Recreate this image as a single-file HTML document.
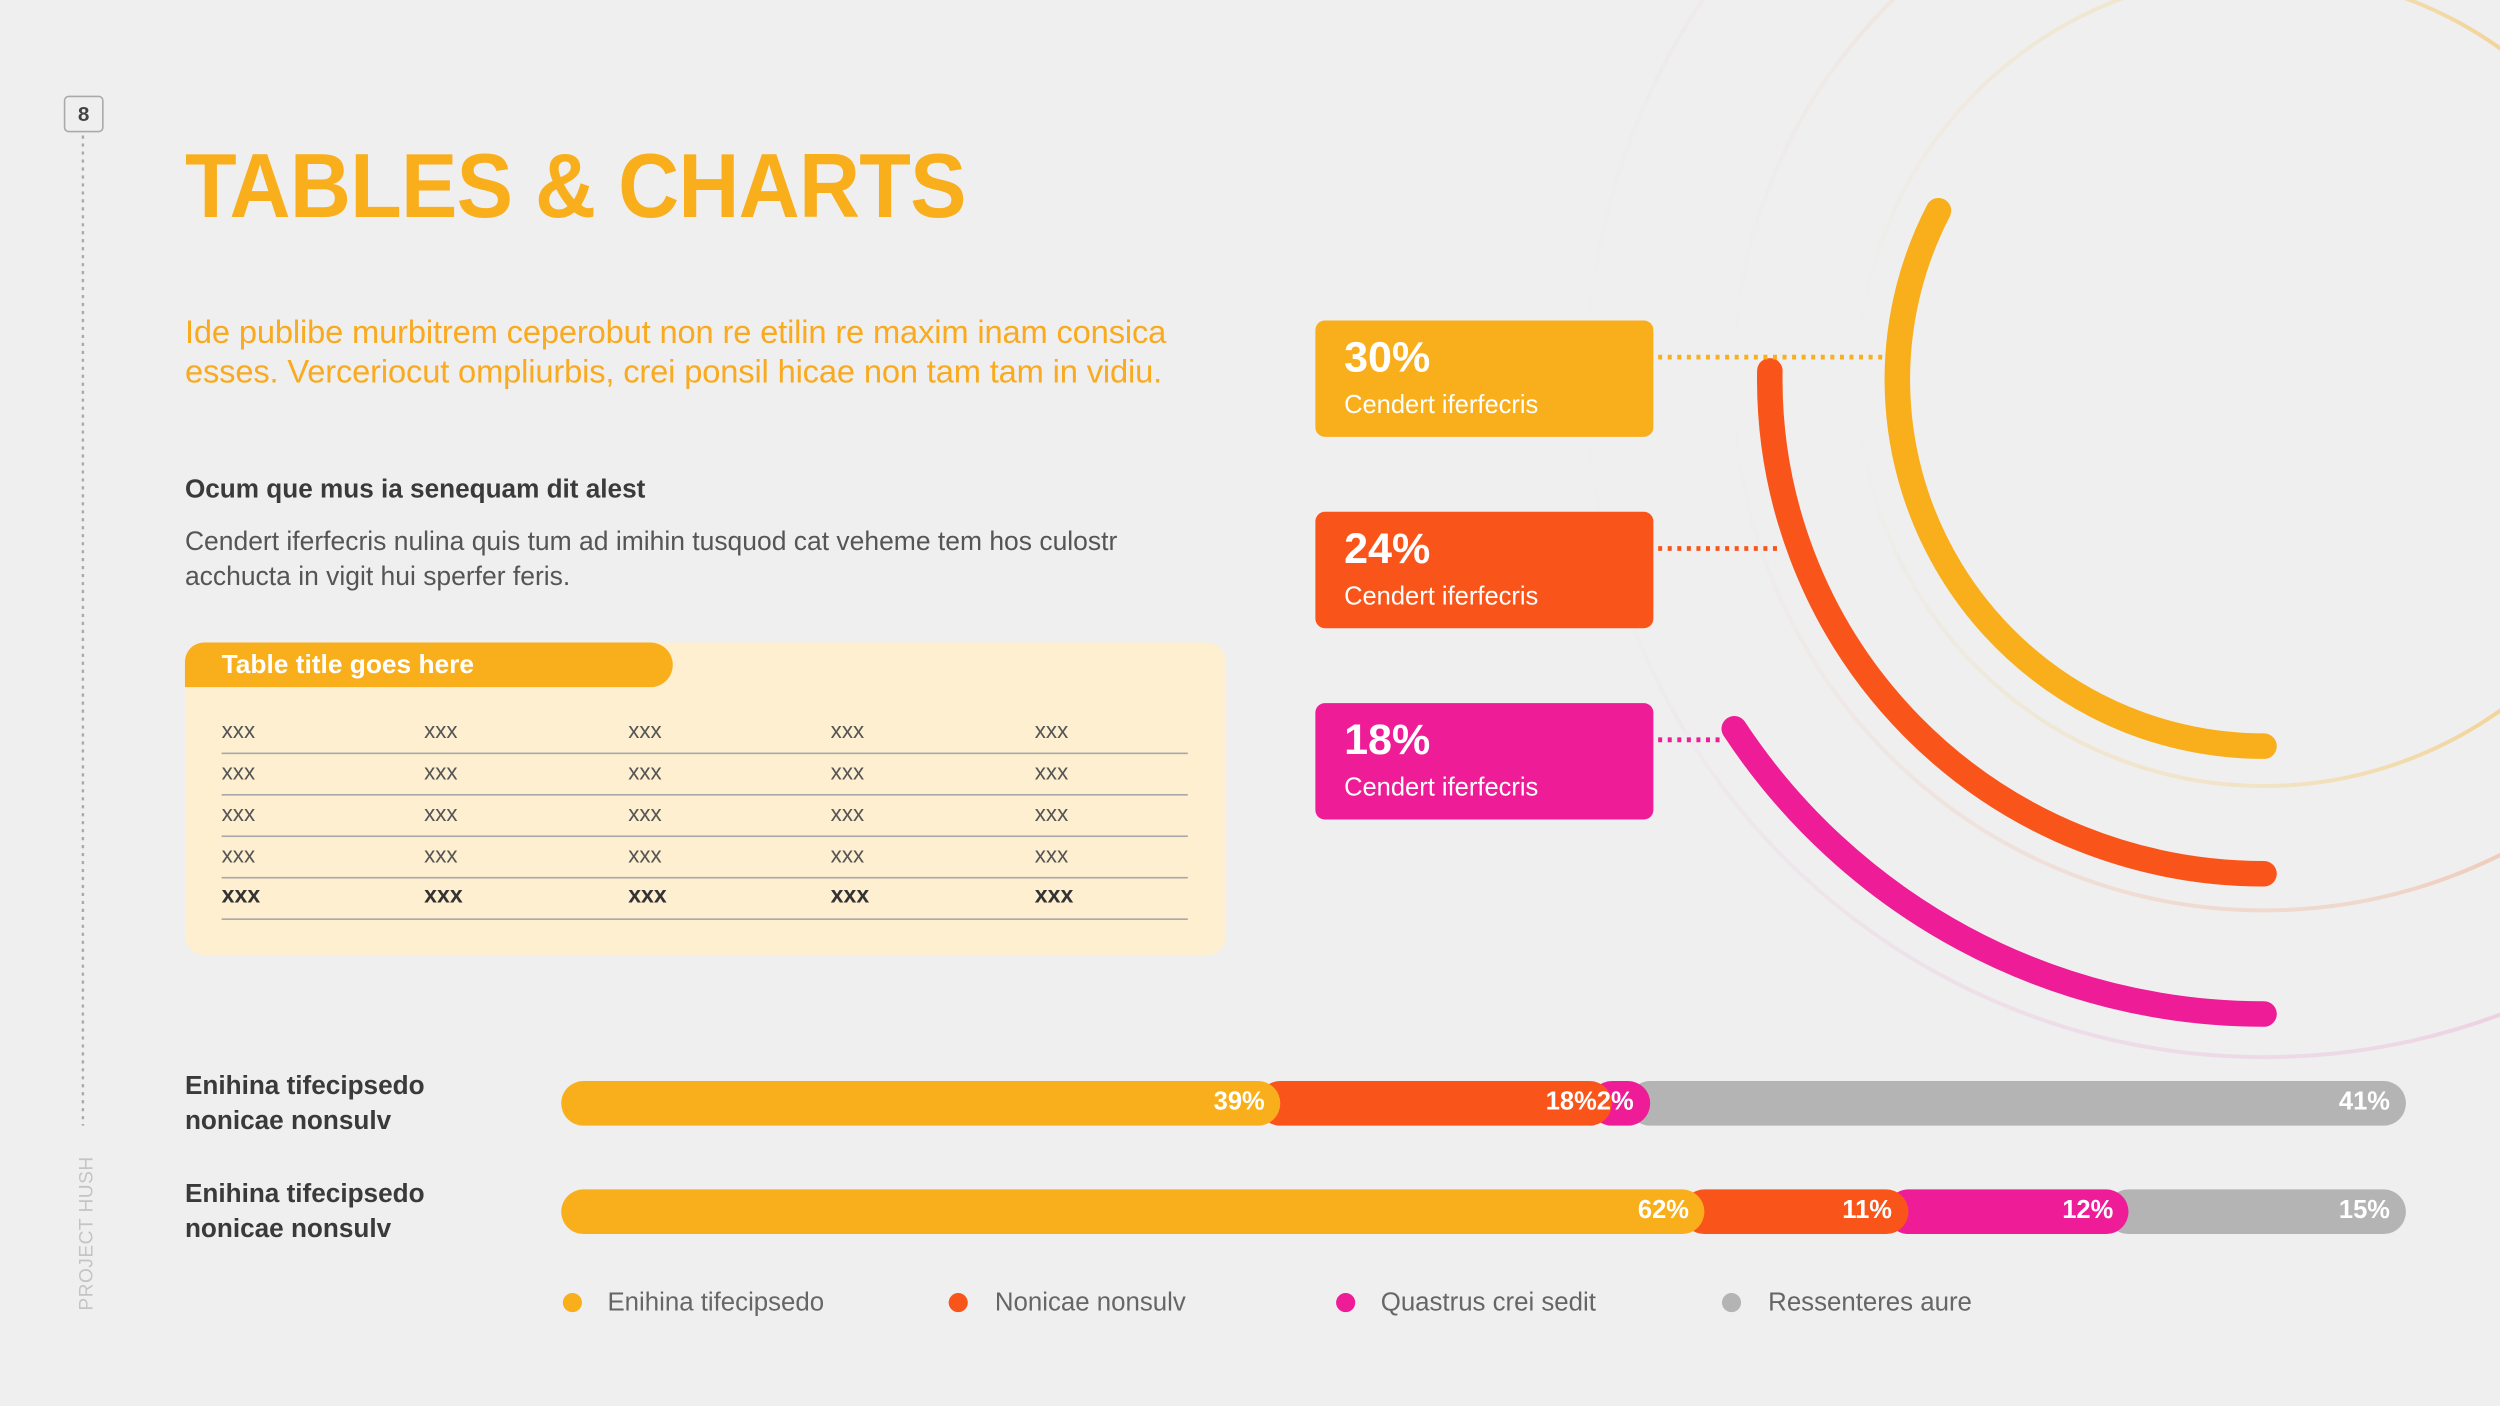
<!DOCTYPE html>
<html><head><meta charset="utf-8"><style>
html,body{margin:0;padding:0;width:2500px;height:1406px;overflow:hidden;background:#efefef}
#s{position:absolute;left:0;top:0;width:1568px;height:882px;transform:scale(1.59439);transform-origin:0 0;font-family:"Liberation Sans",sans-serif}
.a{position:absolute;white-space:nowrap}
.box{position:absolute;left:825px;width:212px;height:73px;border-radius:6px;color:#fff}
.box .p{position:absolute;left:18px;top:8px;font-size:27px;font-weight:bold}
.box .t{position:absolute;left:18px;top:45px;font-size:16px}
.cell{position:absolute;font-size:14px;color:#555}
.rl{position:absolute;left:116px;font-size:16.4px;font-weight:bold;color:#3a3a3a;line-height:22px}
.lg{position:absolute;top:808px;font-size:16.2px;color:#666}
.dot{position:absolute;top:811px;width:12px;height:12px;border-radius:6px}
</style></head><body>
<div id="s">
<svg class="a" style="left:0;top:0" width="1568" height="882">
 <defs>
  <linearGradient id="gy" x1="0" y1="0" x2="1" y2="0"><stop offset="0" stop-color="#f4c870" stop-opacity="0"/><stop offset="0.5" stop-color="#f4d89a" stop-opacity="0.5"/><stop offset="1" stop-color="#f3c060" stop-opacity="0.9"/></linearGradient>
  <linearGradient id="go" x1="0" y1="0" x2="1" y2="0"><stop offset="0" stop-color="#f3a080" stop-opacity="0"/><stop offset="0.6" stop-color="#f0c0a8" stop-opacity="0.5"/><stop offset="1" stop-color="#eea080" stop-opacity="0.9"/></linearGradient>
  <linearGradient id="gp" x1="0" y1="0" x2="1" y2="0"><stop offset="0" stop-color="#e8a0d0" stop-opacity="0"/><stop offset="0.6" stop-color="#ecc0dc" stop-opacity="0.5"/><stop offset="1" stop-color="#e8a0d0" stop-opacity="0.9"/></linearGradient>
 </defs>
 <circle cx="1420" cy="238" r="255" fill="none" stroke="url(#gy)" stroke-width="2.5"/>
 <circle cx="1420" cy="238" r="333" fill="none" stroke="url(#go)" stroke-width="2.5"/>
 <circle cx="1420" cy="238" r="425" fill="none" stroke="url(#gp)" stroke-width="2.5"/>
 <line x1="52" y1="85" x2="52" y2="706" stroke="#aaa" stroke-width="1.5" stroke-dasharray="2 3"/>
 <g id="arcs"></g>
 <line x1="1040" y1="224" x2="1183" y2="224" stroke="#f9ae1b" stroke-width="3" stroke-dasharray="2.5 3.5"/>
 <line x1="1040" y1="344" x2="1117" y2="344" stroke="#f9551a" stroke-width="3" stroke-dasharray="2.5 3.5"/>
 <line x1="1040" y1="464" x2="1082" y2="464" stroke="#ee1c96" stroke-width="3" stroke-dasharray="2.5 3.5"/>
</svg>

<div class="a" style="left:40px;top:60px;width:23px;height:21px;border:1px solid #aaa;border-radius:3px;text-align:center;font-size:13px;font-weight:bold;line-height:21px;color:#444;background:#efefef">8</div>
<div class="a" style="left:47px;top:822px;transform:rotate(-90deg);transform-origin:0 0;font-size:12px;color:#c4c4c4;letter-spacing:0.3px">PROJECT HUSH</div>

<div class="a" style="left:116px;top:84px;font-size:57px;font-weight:bold;color:#f9ae1b;transform:scaleX(0.93);transform-origin:0 0;letter-spacing:-0.5px">TABLES &amp; CHARTS</div>
<div class="a" style="left:116px;top:196px;font-size:20.5px;line-height:25px;color:#f9aa1f;font-weight:500;letter-spacing:-0.1px">Ide publibe murbitrem ceperobut non re etilin re maxim inam consica<br>esses. Verceriocut ompliurbis, crei ponsil hicae non tam tam in vidiu.</div>
<div class="a" style="left:116px;top:298px;font-size:16.4px;font-weight:bold;color:#3a3a3a">Ocum que mus ia senequam dit alest</div>
<div class="a" style="left:116px;top:329px;font-size:16.6px;line-height:22px;color:#555">Cendert iferfecris nulina quis tum ad imihin tusquod cat veheme tem hos culostr<br>acchucta in vigit hui sperfer feris.</div>

<div class="a" style="left:116px;top:403px;width:653px;height:196px;background:#fdefd0;border-radius:12px"></div>
<div class="a" style="left:116px;top:403px;width:306px;height:28px;background:#f9ae1b;border-radius:12px 14px 14px 0;"></div>
<div class="a" style="left:139px;top:408px;font-size:16.5px;font-weight:bold;color:#fff">Table title goes here</div>
<div id="tbl"></div>

<div class="box" style="top:201px;background:#f9ae1b"><div class="p">30%</div><div class="t">Cendert iferfecris</div></div>
<div class="box" style="top:321px;background:#f9551a"><div class="p">24%</div><div class="t">Cendert iferfecris</div></div>
<div class="box" style="top:441px;background:#ee1c96"><div class="p">18%</div><div class="t">Cendert iferfecris</div></div>

<div class="rl" style="top:670px">Enihina tifecipsedo<br>nonicae nonsulv</div>
<div class="rl" style="top:738px">Enihina tifecipsedo<br>nonicae nonsulv</div>
<div id="bars"></div>

<div class="dot" style="left:353px;background:#f9ae1b"></div>
<div class="lg" style="left:381px">Enihina tifecipsedo</div>
<div class="dot" style="left:595px;background:#f9551a"></div>
<div class="lg" style="left:624px">Nonicae nonsulv</div>
<div class="dot" style="left:838px;background:#ee1c96"></div>
<div class="lg" style="left:866px">Quastrus crei sedit</div>
<div class="dot" style="left:1080px;background:#b4b4b4"></div>
<div class="lg" style="left:1109px">Ressenteres aure</div>
</div>
<script>
const barRows = ["row1","row2"];
const seriesA = [39, 62];
const seriesB = [18, 11];
const seriesC = [2, 12];
const seriesD = [41, 15];
const segColors = ["#f9ae1b","#f9551a","#ee1c96","#b4b4b4"];
const arcRadii = [230, 310, 398];
const arcStartDeg = [152.6, 179, 213.4];
const arcColors = ["#f9ae1b","#f9551a","#ee1c96"];

const BX=352, BW=1157, BH=28, BY=[678,746];
const xScale = v => v/100*BW;
const bars = document.getElementById('bars');
barRows.forEach((r,i)=>{
  const vals=[seriesA[i],seriesB[i],seriesC[i],seriesD[i]];
  let cum=0;
  const segs=[];
  vals.forEach((v,j)=>{segs.push({x0:cum,x1:cum+v,j,v});cum+=v;});
  for(let k=segs.length-1;k>=0;k--){
    const sg=segs[k];
    const d=document.createElement('div');
    
    
    const left=BX+xScale(sg.x0)-(k>0?BH/2:0);
    const w=xScale(sg.x1)-xScale(sg.x0)+(k>0?BH/2:0);
    d.style.cssText=`position:absolute;left:${left}px;top:${BY[i]}px;width:${w}px;height:${BH}px;border-radius:${BH/2}px;background:${segColors[sg.j]}`;
    bars.appendChild(d);
    const t=document.createElement('div');
    
    
    t.textContent=sg.v+'%';
    t.style.cssText=`position:absolute;right:${1568-(BX+xScale(sg.x1))+10}px;top:${BY[i]+5}px;font-size:16px;font-weight:bold;color:#fff;white-space:nowrap;z-index:2`;
    bars.appendChild(t);
  }
});

const g=document.getElementById('arcs');
const CX=1420, CY=238;
arcRadii.forEach((r,i)=>{
  const a0=arcStartDeg[i]*Math.PI/180;
  const x0=CX+r*Math.cos(a0), y0=CY-r*Math.sin(a0);
  const x1=CX, y1=CY+r;
  const p=document.createElementNS('http://www.w3.org/2000/svg','path');
  
  
  p.setAttribute('d',`M${x0} ${y0} A${r} ${r} 0 0 0 ${x1} ${y1}`);
  p.setAttribute('fill','none');
  p.setAttribute('stroke',arcColors[i]);
  p.setAttribute('stroke-width','16');
  p.setAttribute('stroke-linecap','round');
  g.appendChild(p);
});

const tbl=document.getElementById('tbl');
const colX=[139,266,394,521,649];
const rowY=[459,485,511,537,563];
rowY.forEach((y,ri)=>{
  colX.forEach(x=>{
    const c=document.createElement('div');
    
    
    c.className='cell';
    c.textContent='xxx';
    c.style.left=x+'px';c.style.top=(y-9)+'px';
    if(ri===4){c.style.fontWeight='bold';c.style.color='#333';c.style.fontSize='14.5px';}
    tbl.appendChild(c);
  });
  const l=document.createElement('div');
  
  
  l.style.cssText=`position:absolute;left:139px;top:${y+13}px;width:606px;height:1px;background:#a8a8a8`;
  tbl.appendChild(l);
});
</script>
</body></html>
